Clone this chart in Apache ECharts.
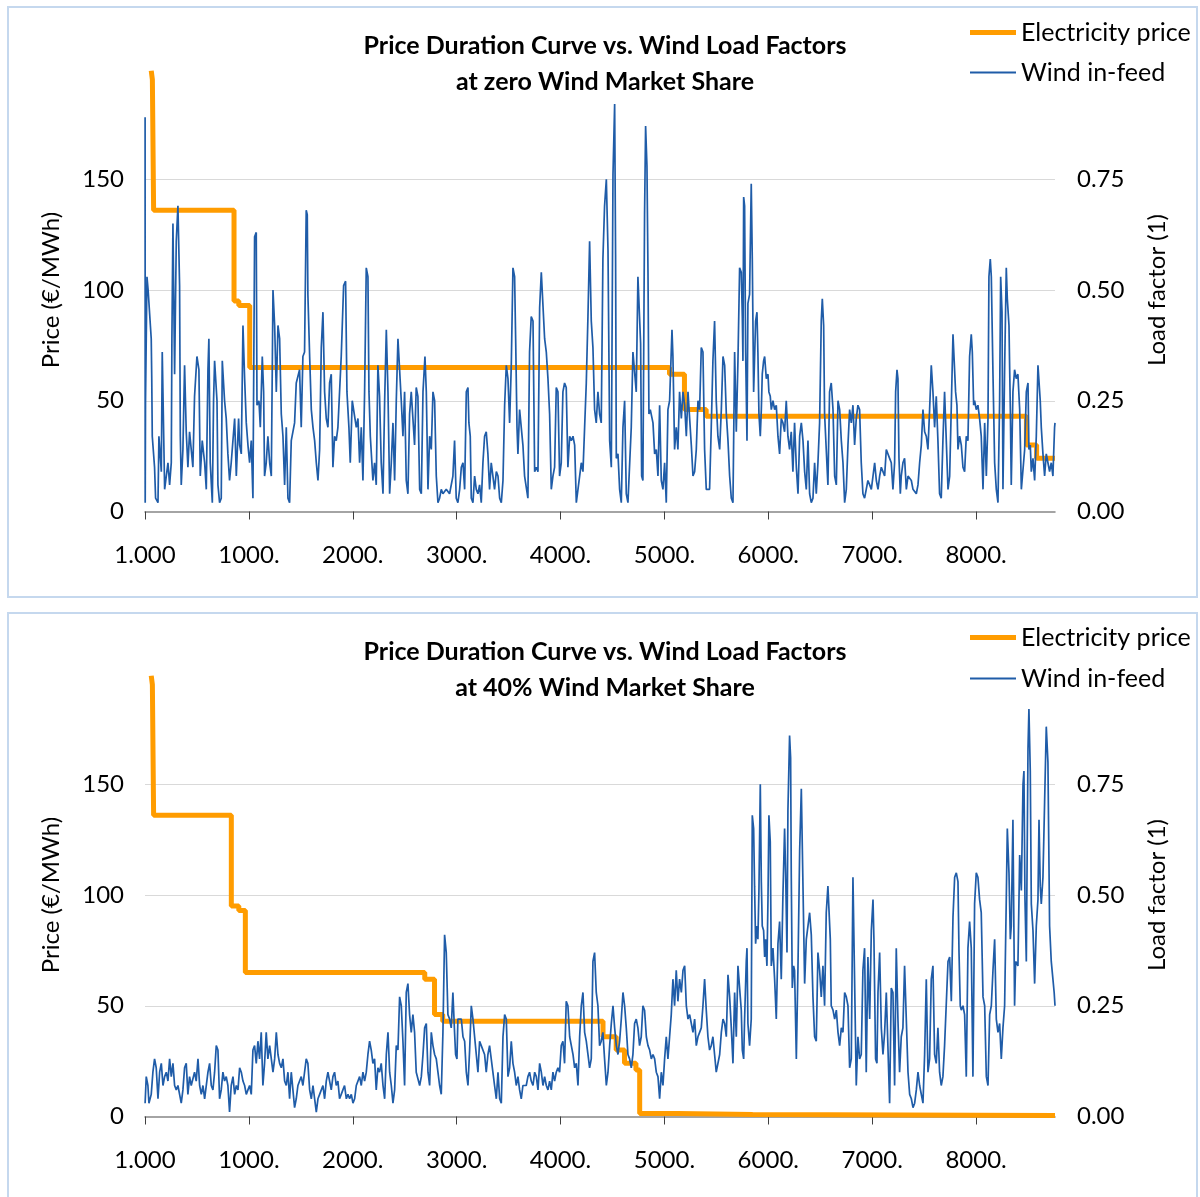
<!DOCTYPE html>
<html>
<head>
<meta charset="utf-8">
<script src="https://cdn.jsdelivr.net/npm/echarts@6/dist/echarts.min.js"></script>
<style>
  html, body { margin: 0; padding: 0; background: #fff; }
  #chart { width: 1200px; height: 1197px; }
</style>
</head>
<body>
<div id="chart"></div>
<script>
// x axis ticks (hours of the year) and their printed labels
const xTicks = [0, 1000, 2000, 3000, 4000, 5000, 6000, 7000, 8000]
const xTickLabels = ['1.000', '1000.', '2000.', '3000.', '4000.', '5000.', '6000.', '7000.', '8000.']

// price duration curves: [hour where level starts, €/MWh]
const priceTop = [[60,199],[71,195],[83,136],[857,95],[903,93],[1008,65],[5049,62],[5193,46],[5402,43],[8485,30],[8583,24],[8760,24]]
const priceBottom = [[60,199],[71,195],[83,136],[831,95],[903,93],[966,65],[2693,62],[2787,46],[2866,43],[4409,36],[4536,30],[4616,24],[4726,21],[4762,1.3],[5126,0.9],[5849,0.5],[8760,0.5]]

// wind load factors: [hour, load factor]
const windTop = [
  [1,0.89],[2,0.02],[5,0.25],[19,0.53],[30,0.50],[60,0.39],[65,0.30],[70,0.17],[92,0.10],[102,0.03],[125,0.02],[134,0.17],[147,0.17],[157,0.09],[166,0.36],[189,0.05],[221,0.11],[237,0.06],[253,0.11],[259,0.39],[269,0.65],[285,0.31],[301,0.61],[317,0.69],[333,0.51],[340,0.17],[349,0.06],[365,0.14],[381,0.33],[397,0.18],[413,0.10],[429,0.18],[461,0.10],[477,0.26],[500,0.35],[519,0.32],[532,0.08],[551,0.16],[574,0.11],[590,0.05],[606,0.32],[615,0.39],[628,0.11],[648,0.02],[660,0.25],[670,0.34],[693,0.25],[702,0.06],[718,0.02],[734,0.03],[744,0.34],[766,0.25],[782,0.21],[798,0.13],[814,0.07],[830,0.11],[863,0.21],[879,0.08],[901,0.21],[911,0.15],[927,0.13],[943,0.42],[959,0.30],[975,0.20],[991,0.15],[1007,0.11],[1023,0.16],[1039,0.03],[1055,0.62],[1071,0.63],[1078,0.24],[1097,0.25],[1110,0.19],[1129,0.35],[1142,0.27],[1151,0.08],[1167,0.11],[1183,0.17],[1200,0.11],[1216,0.08],[1232,0.50],[1248,0.42],[1264,0.27],[1280,0.42],[1296,0.39],[1312,0.22],[1328,0.17],[1344,0.06],[1360,0.19],[1376,0.03],[1392,0.02],[1408,0.16],[1424,0.16],[1440,0.20],[1456,0.29],[1472,0.29],[1488,0.32],[1504,0.19],[1520,0.35],[1536,0.36],[1552,0.68],[1562,0.67],[1568,0.49],[1585,0.35],[1601,0.23],[1617,0.19],[1633,0.16],[1649,0.11],[1665,0.07],[1681,0.14],[1697,0.37],[1713,0.45],[1729,0.27],[1745,0.21],[1761,0.19],[1777,0.29],[1793,0.31],[1809,0.10],[1825,0.17],[1841,0.16],[1857,0.19],[1873,0.19],[1889,0.35],[1912,0.51],[1931,0.52],[1944,0.27],[1963,0.19],[1976,0.11],[1995,0.25],[2011,0.25],[2034,0.19],[2050,0.21],[2066,0.11],[2082,0.19],[2098,0.07],[2114,0.27],[2130,0.55],[2146,0.53],[2156,0.27],[2169,0.17],[2194,0.07],[2210,0.11],[2226,0.06],[2242,0.33],[2258,0.26],[2274,0.11],[2291,0.04],[2307,0.25],[2323,0.41],[2339,0.27],[2355,0.04],[2371,0.11],[2387,0.20],[2403,0.07],[2419,0.25],[2435,0.39],[2451,0.39],[2467,0.25],[2483,0.17],[2499,0.27],[2515,0.07],[2531,0.04],[2547,0.22],[2563,0.27],[2579,0.21],[2595,0.15],[2611,0.28],[2627,0.26],[2644,0.05],[2660,0.04],[2676,0.27],[2695,0.35],[2708,0.27],[2724,0.05],[2740,0.17],[2756,0.14],[2772,0.27],[2788,0.25],[2804,0.08],[2820,0.02],[2836,0.03],[2852,0.05],[2868,0.04],[2900,0.05],[2932,0.04],
  [2964,0.08],[2980,0.16],[2990,0.16],[2996,0.03],[3012,0.02],[3029,0.05],[3045,0.10],[3061,0.11],[3077,0.05],[3093,0.27],[3109,0.28],[3118,0.20],[3131,0.17],[3141,0.03],[3157,0.02],[3173,0.08],[3189,0.05],[3205,0.04],[3221,0.06],[3237,0.02],[3253,0.11],[3269,0.17],[3285,0.18],[3301,0.13],[3317,0.05],[3333,0.11],[3349,0.08],[3365,0.05],[3382,0.09],[3398,0.08],[3414,0.03],[3430,0.02],[3446,0.07],[3462,0.24],[3478,0.33],[3494,0.30],[3510,0.20],[3526,0.33],[3542,0.55],[3558,0.53],[3568,0.39],[3581,0.19],[3590,0.13],[3606,0.23],[3622,0.23],[3638,0.15],[3654,0.08],[3670,0.08],[3686,0.03],[3702,0.36],[3718,0.44],[3735,0.43],[3751,0.09],[3767,0.10],[3783,0.09],[3799,0.46],[3815,0.54],[3831,0.54],[3847,0.39],[3863,0.36],[3879,0.30],[3895,0.22],[3911,0.05],[3927,0.08],[3943,0.10],[3959,0.28],[3975,0.27],[3991,0.08],[4007,0.11],[4023,0.27],[4039,0.29],[4055,0.28],[4071,0.10],[4088,0.17],[4104,0.16],[4120,0.17],[4136,0.15],[4152,0.02],[4168,0.02],[4184,0.08],[4200,0.11],[4216,0.09],[4232,0.19],[4248,0.29],[4264,0.44],[4280,0.61],[4296,0.43],[4312,0.37],[4328,0.23],[4344,0.20],[4360,0.27],[4376,0.22],[4392,0.20],[4408,0.57],[4424,0.69],[4441,0.75],[4457,0.59],[4473,0.16],[4489,0.10],[4505,0.76],[4521,0.92],[4530,0.58],[4537,0.12],[4553,0.13],[4569,0.05],[4585,0.02],[4601,0.19],[4617,0.25],[4633,0.04],[4649,0.02],[4665,0.02],[4681,0.19],[4697,0.36],[4713,0.36],[4729,0.27],[4745,0.53],[4761,0.53],[4771,0.38],[4781,0.08],[4793,0.07],[4809,0.67],[4819,0.87],[4832,0.78],[4842,0.54],[4851,0.22],[4864,0.23],[4890,0.20],[4906,0.13],[4922,0.14],[4938,0.08],[4954,0.24],[4970,0.07],[4986,0.05],[5002,0.11],[5018,0.02],[5034,0.23],[5050,0.25],[5073,0.41],[5082,0.35],[5098,0.14],[5114,0.19],[5130,0.14],[5146,0.27],[5163,0.21],[5179,0.27],[5195,0.24],[5211,0.17],[5227,0.27],[5243,0.27],[5259,0.15],[5275,0.08],[5291,0.09],[5307,0.14],[5323,0.25],[5339,0.23],[5355,0.37],[5371,0.36],[5387,0.14],[5403,0.05],[5419,0.05],[5435,0.05],[5451,0.19],[5467,0.34],[5483,0.43],[5499,0.25],[5515,0.17],[5532,0.14],[5548,0.23],[5564,0.35],[5580,0.33],[5596,0.22],[5612,0.16],[5628,0.08],[5644,0.03],[5660,0.02],[5676,0.36],[5692,0.18],[5708,0.34],
  [5724,0.55],[5740,0.54],[5750,0.44],[5756,0.34],[5763,0.71],[5772,0.69],[5782,0.36],[5795,0.16],[5804,0.47],[5820,0.49],[5836,0.74],[5846,0.57],[5859,0.27],[5868,0.27],[5878,0.43],[5891,0.45],[5900,0.36],[5910,0.22],[5923,0.17],[5933,0.23],[5942,0.31],[5955,0.34],[5965,0.35],[5981,0.30],[5997,0.31],[6006,0.27],[6019,0.26],[6029,0.23],[6045,0.25],[6061,0.23],[6077,0.24],[6093,0.17],[6109,0.13],[6125,0.21],[6141,0.20],[6157,0.18],[6173,0.25],[6189,0.17],[6205,0.14],[6221,0.18],[6237,0.09],[6253,0.20],[6270,0.10],[6286,0.04],[6302,0.17],[6318,0.20],[6334,0.16],[6350,0.09],[6366,0.05],[6382,0.16],[6398,0.04],[6414,0.02],[6430,0.03],[6446,0.11],[6462,0.04],[6478,0.11],[6494,0.20],[6510,0.43],[6520,0.48],[6533,0.42],[6542,0.22],[6558,0.22],[6574,0.06],[6590,0.27],[6606,0.29],[6623,0.23],[6639,0.08],[6655,0.06],[6671,0.25],[6687,0.23],[6703,0.16],[6719,0.11],[6735,0.02],[6751,0.05],[6767,0.15],[6783,0.23],[6799,0.20],[6815,0.24],[6831,0.15],[6847,0.21],[6863,0.24],[6879,0.23],[6895,0.11],[6911,0.04],[6927,0.03],[6943,0.05],[6959,0.07],[6976,0.06],[6992,0.05],[7008,0.08],[7024,0.11],[7040,0.07],[7056,0.05],[7072,0.08],[7088,0.10],[7104,0.09],[7120,0.08],[7136,0.14],[7152,0.14],[7168,0.12],[7184,0.11],[7200,0.05],[7216,0.11],[7226,0.27],[7239,0.32],[7248,0.30],[7258,0.12],[7271,0.04],[7280,0.08],[7296,0.11],[7312,0.12],[7329,0.05],[7345,0.08],[7361,0.08],[7377,0.07],[7393,0.05],[7409,0.05],[7425,0.04],[7441,0.06],[7457,0.11],[7473,0.15],[7489,0.23],[7505,0.18],[7521,0.17],[7537,0.14],[7553,0.23],[7569,0.33],[7585,0.27],[7601,0.19],[7617,0.26],[7633,0.16],[7649,0.04],[7665,0.03],[7681,0.16],[7697,0.27],[7714,0.27],[7730,0.05],[7746,0.08],[7762,0.24],[7778,0.40],[7794,0.40],[7803,0.27],[7816,0.24],[7826,0.14],[7842,0.17],[7858,0.15],[7874,0.10],[7890,0.09],[7906,0.17],[7922,0.16],[7938,0.35],[7954,0.40],[7964,0.36],[7977,0.24],[7986,0.25],[8002,0.23],[8018,0.24],[8034,0.21],[8050,0.17],[8067,0.05],[8083,0.20],[8099,0.08],[8115,0.21],[8124,0.53],[8137,0.57],[8147,0.53],[8163,0.31],[8179,0.11],[8195,0.05],[8211,0.02],[8227,0.25],[8237,0.53],[8250,0.45],[8259,0.05],[8275,0.32],[8291,0.55],[8301,0.48],[8317,0.42],[8330,0.23],[8339,0.06],[8355,0.27],[8371,0.32],[8387,0.30],[8403,0.31],[8420,0.23],[8436,0.05],[8452,0.05],[8468,0.14],[8484,0.27],[8500,0.29],[8509,0.14],[8522,0.15],[8532,0.09],[8548,0.12],[8564,0.07],[8580,0.17],[8596,0.33],[8606,0.33],[8618,0.25],[8628,0.19],[8644,0.13],[8660,0.08],[8676,0.13],[8692,0.11],[8708,0.09],[8724,0.11],[8740,0.08],[8750,0.15],[8756,0.19],[8760,0.20]
]

const windBottom = [
  [1,0.03],[12,0.09],[28,0.07],[38,0.03],[60,0.05],[76,0.10],[92,0.13],[108,0.11],[125,0.04],[141,0.10],[157,0.12],[173,0.07],[189,0.09],[205,0.10],[221,0.08],[237,0.13],[253,0.09],[269,0.12],[285,0.07],[301,0.06],[317,0.07],[333,0.05],[349,0.03],[365,0.06],[381,0.11],[397,0.12],[413,0.05],[429,0.09],[445,0.07],[461,0.07],[477,0.10],[493,0.08],[510,0.13],[526,0.07],[542,0.05],[558,0.07],[574,0.04],[590,0.04],[606,0.10],[622,0.12],[638,0.07],[654,0.06],[670,0.10],[686,0.16],[702,0.15],[718,0.04],[734,0.06],[750,0.10],[766,0.08],[782,0.09],[798,0.07],[814,0.01],[830,0.07],[847,0.09],[863,0.05],[879,0.07],[895,0.06],[911,0.11],[927,0.10],[943,0.08],[959,0.07],[975,0.05],[991,0.06],[1007,0.07],[1023,0.05],[1039,0.15],[1055,0.16],[1071,0.12],[1087,0.17],[1103,0.13],[1119,0.19],[1135,0.07],[1151,0.12],[1167,0.19],[1183,0.13],[1200,0.16],[1216,0.16],[1232,0.10],[1248,0.13],[1264,0.19],[1280,0.14],[1296,0.12],[1312,0.11],[1328,0.13],[1344,0.08],[1360,0.07],[1376,0.10],[1392,0.04],[1408,0.10],[1424,0.10],[1440,0.02],[1456,0.04],[1472,0.07],[1488,0.08],[1504,0.09],[1520,0.07],[1536,0.07],[1552,0.13],[1568,0.12],[1585,0.06],[1601,0.04],[1617,0.07],[1633,0.04],[1649,0.01],[1665,0.04],[1681,0.05],[1697,0.05],[1713,0.07],[1729,0.04],[1745,0.08],[1761,0.10],[1777,0.08],[1793,0.06],[1809,0.09],[1825,0.10],[1841,0.07],[1857,0.08],[1873,0.04],[1889,0.05],[1905,0.06],[1921,0.07],[1938,0.04],[1954,0.05],[1970,0.04],[1986,0.05],[2002,0.03],[2018,0.04],[2034,0.07],[2050,0.07],[2066,0.09],[2082,0.07],[2098,0.10],[2114,0.08],[2130,0.10],[2146,0.14],[2162,0.17],[2178,0.15],[2194,0.12],[2210,0.13],[2226,0.06],[2242,0.11],[2258,0.10],[2274,0.12],[2291,0.07],[2307,0.04],[2323,0.14],[2339,0.19],[2355,0.10],[2371,0.07],[2387,0.03],[2403,0.06],[2419,0.16],[2435,0.15],[2451,0.27],[2467,0.25],[2483,0.17],[2499,0.07],[2515,0.28],[2531,0.30],[2547,0.23],[2563,0.19],[2579,0.23],[2595,0.19],[2611,0.10],[2627,0.10],[2644,0.07],[2660,0.09],[2676,0.14],[2692,0.20],[2708,0.21],[2724,0.10],[2740,0.07],[2756,0.19],[2772,0.16],[2788,0.14],[2804,0.13],[2820,0.10],[2836,0.07],[2852,0.05],[2868,0.19],[2884,0.41],[2900,0.37],[2916,0.23],[2932,0.22],
  [2948,0.20],[2964,0.28],[2971,0.28],[2980,0.19],[2990,0.14],[3003,0.13],[3012,0.22],[3029,0.22],[3045,0.22],[3061,0.18],[3077,0.17],[3093,0.10],[3109,0.07],[3125,0.15],[3141,0.25],[3157,0.22],[3173,0.18],[3189,0.14],[3205,0.10],[3221,0.17],[3237,0.16],[3253,0.16],[3269,0.14],[3285,0.10],[3301,0.14],[3317,0.16],[3333,0.16],[3349,0.10],[3365,0.07],[3382,0.04],[3398,0.10],[3414,0.04],[3430,0.03],[3446,0.18],[3462,0.23],[3478,0.22],[3494,0.09],[3510,0.11],[3526,0.17],[3542,0.12],[3558,0.10],[3574,0.07],[3590,0.09],[3606,0.06],[3622,0.04],[3638,0.07],[3654,0.07],[3670,0.07],[3686,0.09],[3702,0.10],[3718,0.08],[3735,0.07],[3751,0.10],[3767,0.09],[3783,0.06],[3799,0.12],[3815,0.10],[3831,0.07],[3847,0.09],[3863,0.07],[3879,0.06],[3895,0.08],[3911,0.06],[3927,0.10],[3943,0.08],[3959,0.10],[3975,0.11],[3991,0.10],[4007,0.16],[4023,0.17],[4039,0.12],[4055,0.26],[4071,0.25],[4088,0.18],[4104,0.16],[4120,0.14],[4136,0.11],[4152,0.12],[4168,0.07],[4184,0.18],[4200,0.25],[4216,0.28],[4232,0.19],[4248,0.17],[4264,0.14],[4280,0.11],[4296,0.13],[4312,0.35],[4328,0.37],[4344,0.28],[4360,0.25],[4376,0.16],[4392,0.17],[4408,0.19],[4424,0.13],[4441,0.07],[4457,0.10],[4473,0.16],[4489,0.21],[4505,0.25],[4521,0.20],[4537,0.16],[4553,0.14],[4569,0.17],[4585,0.22],[4601,0.28],[4617,0.25],[4633,0.20],[4649,0.14],[4665,0.13],[4681,0.11],[4697,0.14],[4713,0.21],[4729,0.22],[4745,0.20],[4761,0.16],[4777,0.18],[4793,0.25],[4809,0.24],[4826,0.18],[4842,0.16],[4858,0.15],[4874,0.13],[4890,0.14],[4906,0.13],[4922,0.10],[4938,0.09],[4954,0.04],[4970,0.10],[4986,0.07],[5002,0.13],[5018,0.18],[5034,0.13],[5050,0.18],[5066,0.23],[5082,0.31],[5098,0.25],[5114,0.33],[5130,0.26],[5146,0.31],[5163,0.28],[5179,0.33],[5195,0.34],[5211,0.25],[5227,0.22],[5243,0.23],[5259,0.21],[5275,0.19],[5291,0.22],[5307,0.16],[5323,0.18],[5339,0.19],[5355,0.20],[5371,0.25],[5387,0.31],[5403,0.24],[5419,0.18],[5435,0.15],[5451,0.16],[5467,0.18],[5483,0.14],[5499,0.10],[5515,0.10],[5532,0.14],[5548,0.19],[5564,0.22],[5580,0.21],[5596,0.18],[5612,0.32],[5628,0.27],[5644,0.20],[5660,0.12],[5676,0.28],[5692,0.18],[5708,0.34],[5724,0.34],[5740,0.24],
  [5750,0.15],[5763,0.13],[5772,0.22],[5788,0.35],[5795,0.38],[5804,0.21],[5820,0.16],[5836,0.22],[5846,0.68],[5859,0.65],[5868,0.52],[5878,0.39],[5891,0.43],[5900,0.40],[5910,0.51],[5923,0.75],[5933,0.53],[5942,0.43],[5955,0.42],[5965,0.36],[5974,0.40],[5987,0.34],[5997,0.49],[6006,0.68],[6019,0.62],[6029,0.34],[6045,0.38],[6061,0.31],[6077,0.22],[6093,0.39],[6109,0.44],[6125,0.31],[6141,0.50],[6157,0.65],[6167,0.55],[6180,0.37],[6189,0.69],[6205,0.86],[6215,0.81],[6221,0.55],[6231,0.29],[6244,0.34],[6253,0.33],[6270,0.13],[6286,0.34],[6302,0.60],[6318,0.74],[6334,0.74],[6350,0.30],[6366,0.40],[6382,0.40],[6398,0.46],[6414,0.41],[6430,0.27],[6446,0.18],[6462,0.17],[6478,0.37],[6494,0.33],[6510,0.27],[6526,0.34],[6542,0.25],[6558,0.46],[6574,0.52],[6590,0.52],[6597,0.40],[6606,0.25],[6623,0.24],[6639,0.22],[6655,0.24],[6671,0.19],[6687,0.16],[6703,0.20],[6719,0.19],[6735,0.28],[6751,0.27],[6767,0.25],[6783,0.11],[6799,0.13],[6815,0.54],[6831,0.54],[6847,0.07],[6863,0.18],[6879,0.13],[6895,0.14],[6911,0.33],[6927,0.38],[6943,0.10],[6959,0.36],[6976,0.22],[6992,0.42],[7008,0.49],[7017,0.40],[7033,0.13],[7046,0.12],[7056,0.28],[7072,0.37],[7088,0.20],[7104,0.14],[7120,0.19],[7136,0.28],[7152,0.28],[7168,0.03],[7184,0.29],[7200,0.28],[7216,0.07],[7232,0.38],[7248,0.22],[7264,0.10],[7280,0.18],[7296,0.20],[7312,0.34],[7329,0.34],[7345,0.10],[7361,0.05],[7377,0.04],[7393,0.02],[7409,0.03],[7425,0.06],[7441,0.10],[7457,0.07],[7473,0.07],[7489,0.03],[7505,0.14],[7521,0.31],[7537,0.10],[7553,0.13],[7569,0.31],[7585,0.34],[7601,0.14],[7617,0.12],[7633,0.20],[7649,0.10],[7665,0.07],[7681,0.09],[7697,0.16],[7714,0.16],[7730,0.35],[7746,0.36],[7762,0.26],[7778,0.45],[7794,0.54],[7810,0.55],[7826,0.53],[7836,0.37],[7848,0.25],[7858,0.24],[7874,0.25],[7890,0.23],[7906,0.09],[7922,0.38],[7938,0.44],[7954,0.38],[7970,0.09],[7986,0.48],[8002,0.55],[8018,0.54],[8034,0.49],[8050,0.46],[8067,0.27],[8083,0.25],[8099,0.09],[8115,0.07],[8131,0.23],[8147,0.25],[8163,0.33],[8179,0.40],[8195,0.22],[8211,0.19],[8227,0.21],[8243,0.13],[8259,0.20],[8275,0.25],[8291,0.49],[8301,0.65],[8317,0.55],[8330,0.40],[8339,0.43],[8355,0.67],[8371,0.25],[8381,0.35],[8403,0.34],[8420,0.59],[8436,0.51],[8452,0.75],[8461,0.78],[8471,0.49],[8484,0.35],[8500,0.83],[8509,0.92],[8522,0.78],[8532,0.48],[8548,0.42],[8564,0.30],[8580,0.43],[8596,0.49],[8606,0.67],[8618,0.52],[8628,0.48],[8644,0.54],[8660,0.71],[8676,0.88],[8692,0.80],[8708,0.43],[8724,0.35],[8740,0.31],[8752,0.28],[8760,0.25]
]

const FONT = 'Lato, "Open Sans", sans-serif'
const ORANGE = '#ff9c00'
const BLUE = '#1f5ca8'

const chartInstance = echarts.init(document.getElementById('chart'), null, { renderer: 'canvas' })

// one x axis per panel
function makeXAxis(gridIndex) {
  return {
    type: 'value',
    gridIndex: gridIndex,
    min: 0,
    max: 8760,
    interval: 1000,
    axisLine: { show: true, lineStyle: { color: '#868686', width: 1.5 } },
    axisTick: { show: true, length: 8, customValues: xTicks, lineStyle: { color: '#404040' } },
    axisLabel: {
      customValues: xTicks,
      margin: 32,
      fontSize: 24,
      color: '#000',
      fontFamily: FONT,
      formatter: (v) => {
        const i = xTicks.indexOf(v)
        return i < 0 ? '' : xTickLabels[i]
      }
    },
    splitLine: { show: false }
  }
}

function makePriceAxis(gridIndex) {
  return {
    type: 'value',
    gridIndex: gridIndex,
    position: 'left',
    min: 0,
    max: 200,
    interval: 50,
    name: 'Price (€/MWh)',
    nameLocation: 'middle',
    nameGap: 82,
    nameTextStyle: { fontSize: 24, color: '#000', fontFamily: FONT },
    axisLine: { show: false },
    axisTick: { show: false },
    axisLabel: { margin: 21, fontSize: 24, color: '#000', fontFamily: FONT, showMaxLabel: false },
    splitLine: { show: true, showMinLine: false, showMaxLine: false, lineStyle: { color: '#d9d9d9', width: 1 } }
  }
}

function makeLoadAxis(gridIndex) {
  return {
    type: 'value',
    gridIndex: gridIndex,
    position: 'right',
    min: 0,
    max: 1,
    interval: 0.25,
    name: 'Load factor (1)',
    nameLocation: 'middle',
    nameGap: 90,
    nameTextStyle: { fontSize: 24, color: '#000', fontFamily: FONT },
    axisLine: { show: false },
    axisTick: { show: false },
    axisLabel: {
      margin: 22, fontSize: 24, color: '#000', fontFamily: FONT, showMaxLabel: false,
      formatter: (v) => v.toFixed(2)
    },
    splitLine: { show: false }
  }
}

// legends: one per item so the icon thickness can follow the line
function makeLegend(name, top, height) {
  return {
    data: [name],
    left: 970,
    top: top,
    padding: 0,
    icon: 'rect',
    itemWidth: 46,
    itemHeight: height,
    textStyle: { fontSize: 25, color: '#000', fontFamily: FONT }
  }
}

function makeTitle(text, top) {
  return {
    text: text,
    left: 605,
    top: top,
    textAlign: 'center',
    padding: 0,
    textStyle: { fontSize: 25, fontWeight: 'bold', color: '#000', lineHeight: 36, fontFamily: FONT }
  }
}

const initOption = {
  animation: false,
  backgroundColor: '#fff',
  textStyle: { fontFamily: FONT },
  graphic: [
    { type: 'rect', silent: true, z: -10, shape: { x: 8, y: 7, width: 1189, height: 590 }, style: { fill: 'none', stroke: '#c5d8ee', lineWidth: 2 } },
    { type: 'rect', silent: true, z: -10, shape: { x: 8, y: 613, width: 1189, height: 600 }, style: { fill: 'none', stroke: '#c5d8ee', lineWidth: 2 } }
  ],
  title: [
    makeTitle('Price Duration Curve vs. Wind Load Factors\nat zero Wind Market Share', 28),
    makeTitle('Price Duration Curve vs. Wind Load Factors\nat 40% Wind Market Share', 634)
  ],
  legend: [
    makeLegend('Electricity price', 20, 5),
    makeLegend('Wind in-feed', 60, 2),
    makeLegend('Electricity price', 625, 5),
    makeLegend('Wind in-feed', 666, 2)
  ],
  grid: [
    { left: 145, top: 68.5, width: 910, height: 443 },
    { left: 145, top: 673.5, width: 910, height: 443 }
  ],
  xAxis: [makeXAxis(0), makeXAxis(1)],
  yAxis: [makePriceAxis(0), makeLoadAxis(0), makePriceAxis(1), makeLoadAxis(1)],
  series: [
    {
      name: 'Electricity price', type: 'line', xAxisIndex: 0, yAxisIndex: 0,
      data: priceTop, step: 'end', symbol: 'none', clip: false, z: 2,
      lineStyle: { color: ORANGE, width: 5 }, itemStyle: { color: ORANGE }
    },
    {
      name: 'Wind in-feed', type: 'line', xAxisIndex: 0, yAxisIndex: 1,
      data: windTop, symbol: 'none', clip: false, z: 3,
      lineStyle: { color: BLUE, width: 1.7 }, itemStyle: { color: BLUE }
    },
    {
      name: 'Electricity price', type: 'line', xAxisIndex: 1, yAxisIndex: 2,
      data: priceBottom, step: 'end', symbol: 'none', clip: false, z: 2,
      lineStyle: { color: ORANGE, width: 5 }, itemStyle: { color: ORANGE }
    },
    {
      name: 'Wind in-feed', type: 'line', xAxisIndex: 1, yAxisIndex: 3,
      data: windBottom, symbol: 'none', clip: false, z: 3,
      lineStyle: { color: BLUE, width: 1.7 }, itemStyle: { color: BLUE }
    }
  ]
}

chartInstance.setOption(initOption)
</script>
</body>
</html>
